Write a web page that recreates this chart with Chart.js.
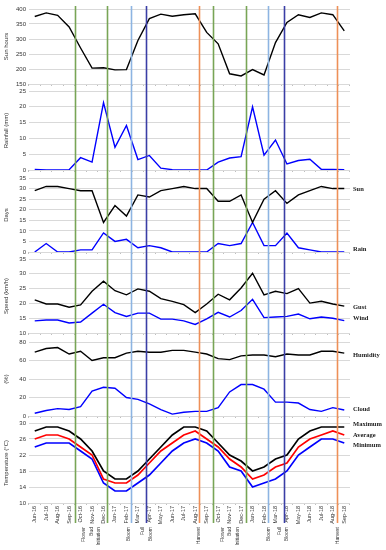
<!DOCTYPE html>
<html>
<head>
<meta charset="utf-8">
<script src="https://cdn.jsdelivr.net/npm/chart.js@4.4.1/dist/chart.umd.min.js"></script>
<style>
html, body { margin: 0; padding: 0; background: #fff; }
#wrap { position: relative; width: 386px; height: 550px; overflow: hidden; }
#wrap canvas { position: absolute; left: 0; }
</style>
</head>
<body>
<div id="wrap"></div>
<script>
// monthly values, Jun-16 .. Sep-18
const months = ['Jun-16','Jul-16','Aug-16','Sep-16','Oct-16','Nov-16','Dec-16','Jan-17','Feb-17','Mar-17',
  'Apr-17','May-17','Jun-17','Jul-17','Aug-17','Sep-17','Oct-17','Nov-17','Dec-17','Jan-18','Feb-18',
  'Mar-18','Apr-18','May-18','Jun-18','Jul-18','Aug-18','Sep-18'];

const sunHours = [375, 387, 379, 340, 270, 203, 204, 197, 198, 295, 368, 383, 376, 381, 384, 322, 284, 184, 177, 198, 180, 288, 355, 381, 372, 387, 381, 327];
const rainfall = [0.2, 0, 0, 0.1, 3.9, 2.5, 21.3, 7.2, 14.1, 3.3, 4.6, 0.6, 0.1, 0, 0, 0, 2.5, 3.8, 4.2, 20.0, 4.7, 9.5, 1.9, 3.0, 3.4, 0.2, 0.2, 0.1];
const sunDays = [29, 31, 31, 30, 29, 29, 14, 22, 17, 27, 26, 29, 30, 31, 30, 30, 24, 24, 27, 14, 25, 29, 23, 27, 29, 31, 30, 30];
const rainDays = [0, 4, 0, 0, 1, 1, 9, 5, 6, 2, 3, 2, 0, 0, 0, 0, 4, 3, 4, 14, 3, 3, 9, 2, 1, 0, 0, 0];
const gust = [21.2, 19.8, 19.8, 18.7, 19.5, 24.1, 27.5, 24.3, 22.9, 24.9, 24.1, 21.6, 20.7, 19.6, 16.9, 19.8, 23.1, 21.2, 25.2, 30.2, 22.9, 24.1, 23.3, 25, 20.1, 20.7, 19.8, 19.1];
const wind = [14.1, 14.4, 14.4, 13.4, 13.7, 16.7, 19.7, 16.9, 15.6, 16.7, 16.7, 14.7, 14.7, 14.1, 12.9, 14.8, 17, 15.4, 17.6, 21.4, 15.2, 15.4, 15.6, 16.4, 14.8, 15.4, 15, 14.2];
const humidity = [69, 73, 74, 67, 70, 60, 63, 63, 68, 70, 69, 69, 71, 71, 69, 67, 62, 61, 65, 66, 66, 64, 67, 66, 66, 70, 70, 68];
const cloud = [3, 6, 8, 7, 10, 27, 31, 30, 20, 18, 13, 7, 2, 4, 5, 5, 9, 26, 34, 34, 29, 15, 15, 14, 7, 5, 9, 6.5];
const tMax = [28, 29, 29, 28, 26, 23, 18, 16, 16, 18, 21, 24, 27, 29, 29, 28, 25, 22, 20.5, 18, 19, 21, 22, 26, 28, 29, 29, 29];
const tAvg = [26, 27, 27, 26, 24, 22, 16, 15, 15, 17, 20, 23, 25, 27, 28, 26, 24, 21, 19, 16, 17, 19, 20, 24, 26, 27, 28, 27];
const tMin = [24, 25, 25, 25, 23, 21, 15, 13, 13, 15, 17, 20, 23, 25, 26, 25, 23, 19, 18, 14, 15, 16, 18, 22, 24, 26, 26, 25];

// phenology markers (position in month index units)
const eventPos = [3.54, 6.34, 8.38, 9.67, 14.36, 15.58, 18.47, 20.31, 21.72, 26.38];
const eventColors = ['#78a556', '#78a556', '#8db4e2', '#3a3ea6', '#ee9058',
                     '#78a556', '#78a556', '#8db4e2', '#3a3ea6', '#ee9058'];
const eventLabelPos = [4.93, 8.23, 9.78, 14.33, 17.04, 20.39, 21.65, 26.43];
const eventLabels = [['Flower', 'Bud', 'Initiation'], ['Bloom'], ['Full', 'Bloom'], ['Harvest'],
                     ['Flower', 'Bud', 'Initiation'], ['Bloom'], ['Full', 'Bloom'], ['Harvest']];

Chart.defaults.font.family = '"Liberation Sans", Arial, sans-serif';
Chart.defaults.color = '#333';

const panels = [
  { top: 0, height: 88, padTop: 9, title: 'Sun hours', min: 150, max: 400, step: 50, lineTop: 6,
    series: [{ data: sunHours, color: '#000' }], tags: [] },
  { top: 88, height: 86, padTop: 3, title: 'Rainfall (mm)', min: 0, max: 25, step: 5,
    series: [{ data: rainfall, color: '#0000ff' }], tags: [] },
  { top: 174, height: 82, padTop: 4, title: 'Days', min: 0, max: 35, step: 5,
    series: [{ data: sunDays, color: '#000' }, { data: rainDays, color: '#0000ff' }],
    tags: [['Sun', 29.7], ['Rain', 1.5]] },
  { top: 256, height: 81, padTop: 3, title: 'Speed (km/h)', min: 10, max: 35, step: 5,
    series: [{ data: gust, color: '#000' }, { data: wind, color: '#0000ff' }],
    tags: [['Gust', 18.6], ['Wind', 14.8]] },
  { top: 337, height: 83, padTop: 5, title: '(%)', min: 0, max: 80, step: 10,
    series: [{ data: humidity, color: '#000' }, { data: cloud, color: '#0000ff' }],
    tags: [['Humidity', 65.3], ['Cloud', 7.5]] },
  { top: 420, height: 130, padTop: 3, title: 'Temperature (°C)', min: 10, max: 30, step: 2, lineBottom: 103,
    series: [{ data: tMax, color: '#000' }, { data: tAvg, color: '#ff0000' }, { data: tMin, color: '#0000ff' }],
    tags: [['Maximum', 29.6], ['Average', 27], ['Minimum', 24.3]], last: true }
];

const markerPlugin = {
  id: 'markers',
  afterDatasetsDraw(chart, args, opts) {
    const ctx = chart.ctx, x = chart.scales.x, y = chart.scales.y;
    ctx.save();
    ctx.lineWidth = 1.6;
    eventPos.forEach((p, i) => {
      const px = Math.round(x.getPixelForValue(p)) + 0.5;
      ctx.strokeStyle = eventColors[i];
      ctx.beginPath();
      ctx.moveTo(px, opts.top);
      ctx.lineTo(px, opts.bottom);
      ctx.stroke();
    });
    // series names at the right edge
    ctx.fillStyle = '#222';
    ctx.font = 'bold 6.5px "Liberation Serif", serif';
    ctx.textBaseline = 'middle';
    ctx.textAlign = 'left';
    opts.tags.forEach(t => {
      ctx.fillText(t[0], chart.chartArea.right + 3, y.getPixelForValue(t[1]));
    });
    // stage names under the month axis
    if (opts.last) {
      ctx.font = '5px "Liberation Sans", sans-serif';
      ctx.fillStyle = '#333';
      ctx.textAlign = 'right';
      const yTop = chart.chartArea.bottom + 24;
      eventLabelPos.forEach((p, i) => {
        const lines = eventLabels[i];
        const cx = x.getPixelForValue(p);
        const lh = 7.5;
        lines.forEach((txt, j) => {
          const lx = cx + (j - (lines.length - 1) / 2) * lh;
          ctx.save();
          ctx.translate(lx, yTop);
          ctx.rotate(-Math.PI / 2);
          ctx.fillText(txt, 0, 0);
          ctx.restore();
        });
      });
    }
    ctx.restore();
  }
};

const wrap = document.getElementById('wrap');

panels.forEach(p => {
  const canvas = document.createElement('canvas');
  canvas.width = 386;
  canvas.height = p.height;
  canvas.style.top = p.top + 'px';
  wrap.appendChild(canvas);

  const xHeight = p.last ? 46 : 3;

  new Chart(canvas, {
    type: 'line',
    data: {
      labels: months,
      datasets: p.series.map(s => ({
        data: s.data,
        borderColor: s.color,
        borderWidth: p.last ? 1.7 : 1.4,
        pointRadius: 0,
        tension: 0,
        fill: false
      }))
    },
    options: {
      responsive: false,
      animation: false,
      events: [],
      layout: { padding: { top: p.padTop, bottom: 1, left: 0, right: 36 } },
      plugins: {
        legend: { display: false },
        tooltip: { enabled: false },
        markers: {
          top: p.lineTop || 0,
          bottom: p.lineBottom || p.height,
          tags: p.tags,
          last: !!p.last
        }
      },
      scales: {
        x: {
          type: 'category',
          offset: true,
          border: { display: false },
          grid: { drawOnChartArea: false, drawTicks: true, tickLength: 2, color: '#bfbfbf', offset: true },
          ticks: {
            display: !!p.last,
            autoSkip: false,
            maxRotation: 90,
            minRotation: 90,
            padding: 1,
            font: { size: 5.5 },
            color: '#333'
          },
          afterFit: s => { s.height = xHeight; s.paddingLeft = 0; s.paddingRight = 0; }
        },
        y: {
          min: p.min,
          max: p.max,
          border: { display: false },
          grid: { color: '#d9d9d9', drawTicks: false, lineWidth: 1 },
          ticks: { stepSize: p.step, padding: 3, font: { size: 6 }, color: '#333' },
          title: { display: true, text: p.title, font: { size: 6 }, color: '#333', padding: { top: 3, bottom: 0 } },
          afterFit: s => { s.width = 29; s.paddingTop = 0; s.paddingBottom = 0; }
        }
      }
    },
    plugins: [markerPlugin]
  });
});
</script>
</body>
</html>
